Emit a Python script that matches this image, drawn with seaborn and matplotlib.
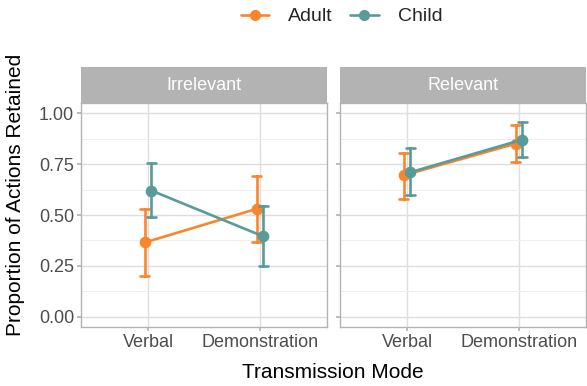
import pandas as pd
import matplotlib.pyplot as plt
import seaborn as sns

# Summary values (mean with CI bounds)
relevance = ['Irrelevant', 'Irrelevant', 'Irrelevant', 'Irrelevant',
             'Relevant', 'Relevant', 'Relevant', 'Relevant']
mode = ['Verbal', 'Demonstration', 'Verbal', 'Demonstration',
        'Verbal', 'Demonstration', 'Verbal', 'Demonstration']
age = ['Adult', 'Adult', 'Child', 'Child', 'Adult', 'Adult', 'Child', 'Child']
mean = [0.365, 0.53, 0.62, 0.395, 0.695, 0.85, 0.71, 0.87]
lower = [0.20, 0.365, 0.49, 0.25, 0.58, 0.76, 0.60, 0.785]
upper = [0.53, 0.69, 0.755, 0.545, 0.805, 0.94, 0.83, 0.955]

modes = ['Verbal', 'Demonstration']
ages = ['Adult', 'Child']
palette = {'Adult': '#F8862C', 'Child': '#5B9A9A'}

# long format: lo / mean / hi per cell so median = mean and min-max = CI
rows = []
for r, m, a, mu, lo, hi in zip(relevance, mode, age, mean, lower, upper):
    for v in (lo, mu, hi):
        rows.append({'relevance': r, 'mode': m, 'age': a, 'value': v})
df = pd.DataFrame(rows)

sns.set_theme(style='white')
plt.rcParams['font.family'] = ['Liberation Sans', 'DejaVu Sans']

fig = plt.figure(figsize=(5.87, 3.86), dpi=100)
panels = ['Irrelevant', 'Relevant']
lefts = [81 / 587, 340 / 587]
width = 246 / 587
bottom = 1 - 327 / 386
height = (327 - 103) / 386
strip_h = 36 / 386

for i, panel in enumerate(panels):
    ax = fig.add_axes([lefts[i], bottom, width, height])
    sub = df[df['relevance'] == panel]
    sns.pointplot(data=sub, x='mode', y='value', hue='age', order=modes,
                  hue_order=ages, palette=palette, estimator='median',
                  errorbar=lambda v: (v.min(), v.max()), dodge=0.06,
                  capsize=0.08, markersize=7, linewidth=1.9,
                  err_kws={'linewidth': 1.9}, ax=ax, legend=False)
    ax.set_xlim(-0.6, 1.6)
    ax.set_ylim(-0.05, 1.05)
    ax.set_yticks([0, 0.25, 0.5, 0.75, 1.0])
    ax.set_yticks([0.125, 0.375, 0.625, 0.875], minor=True)
    ax.grid(True, which='major', color='#DEDEDE', linewidth=1.0)
    ax.grid(True, which='minor', axis='y', color='#EEEEEE', linewidth=0.7)
    ax.set_axisbelow(True)
    for s in ax.spines.values():
        s.set_color('#B3B3B3')
        s.set_linewidth(1.0)
    ax.tick_params(axis='both', which='major', length=3, color='#B3B3B3',
                   labelsize=13, labelcolor='#4D4D4D', pad=2, left=True,
                   bottom=True)
    ax.tick_params(which='minor', length=0)
    ax.set_xlabel('')
    ax.set_ylabel('')
    if i == 0:
        ax.set_yticklabels(['0.00', '0.25', '0.50', '0.75', '1.00'])
    else:
        ax.set_yticklabels([])
    # facet strip
    sax = fig.add_axes([lefts[i], bottom + height, width, strip_h])
    sax.set_facecolor('#B3B3B3')
    sax.set_xticks([])
    sax.set_yticks([])
    for s in sax.spines.values():
        s.set_visible(False)
    sax.text(0.5, 0.5, panel, color='white', fontsize=13,
             ha='center', va='center', transform=sax.transAxes)

fig.text((81 + 585) / 2 / 587, 0.01, 'Transmission Mode', ha='center',
         va='bottom', fontsize=15, color='black')
fig.text(0.01, 1 - 195 / 386, 'Proportion of Actions Retained',
         rotation=90, ha='left', va='center', fontsize=15, color='black')

handles = [plt.Line2D([], [], color=palette[a], marker='o', markersize=7,
                      linewidth=1.9) for a in ages]
fig.legend(handles, ages, loc='upper center', bbox_to_anchor=(0.582, 1.025),
           ncol=2, frameon=False, fontsize=14, handlelength=1.45,
           columnspacing=0.9, handletextpad=1.0)

fig.savefig('out.png', dpi=100)
